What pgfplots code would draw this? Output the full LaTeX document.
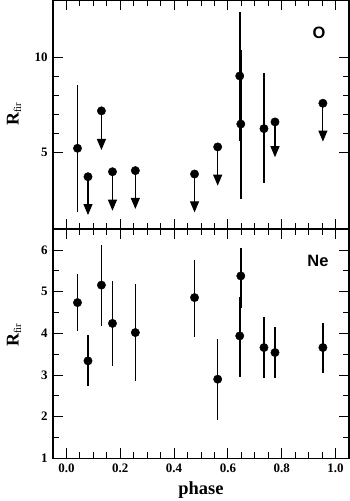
\documentclass[border=0pt]{standalone}
\usepackage{graphicx}
\usepackage{fontspec}
\setmainfont{Liberation Serif}
\newfontfamily\arialb{Liberation Sans}
\usepackage{pgfplots}
\pgfplotsset{compat=1.18}
\usetikzlibrary{arrows.meta}
\newcommand{\rfir}{\fontsize{18}{19}\selectfont\textbf{R}\textsubscript{\fontsize{10.5}{11}\selectfont fir}}
\pgfplotsset{
 panel/.style={
  width=296bp, height=229bp, scale only axis, clip mode=individual,
  xmin=-0.05, xmax=1.05,
  xtick={0,0.2,0.4,0.6,0.8,1.0}, minor x tick num=3,
  major tick length=10bp, minor tick length=6bp,
  every tick/.style={black, line width=0.9bp},
  axis line style={line width=1.1bp},
  tick label style={font=\fontsize{13}{14}\selectfont\bfseries},
  yticklabel style={xshift=-2bp},
  /pgf/number format/assume math mode=true,
 },
 pts/.style={only marks, mark=*, mark size=4.2bp, black, mark options={line width=0.4bp},
  error bars/.cd, y dir=both, y explicit, error mark=none,
  error bar style={line width=1.5bp, black}},
}
\begin{document}
\begin{tikzpicture}
\path[use as bounding box] (0,0) rectangle (350bp,501bp);
% upper panel: O
\begin{axis}[panel, at={(53bp,272bp)}, anchor=south west,
  ymin=1, ymax=13, ytick={5,10}, minor y tick num=4, xticklabels={}]
\addplot[pts] table[x=x, y=y, y error plus expr=\thisrow{hi}-\thisrow{y}, y error minus expr=\thisrow{y}-\thisrow{lo}] {
x y hi lo
0.041 5.23 8.55 1.91
0.644 9.02 12.39 5.63
0.648 6.50 10.39 2.57
0.734 6.26 9.16 3.39
};
\addplot[black, line width=1.1bp, -{Triangle[width=9bp,length=11bp]}, quiver={u=0, v=\thisrow{v}}] table[x=x, y=y] {
x y v
0.080 3.74 -2.01
0.130 7.19 -2.05
0.171 4.00 -2.04
0.256 4.06 -2.01
0.476 3.88 -2.01
0.562 5.30 -2.03
0.775 6.61 -1.85
0.953 7.59 -2.01
};
\addplot[only marks, mark=*, mark size=4.2bp, black, mark options={line width=0.4bp}] table[x=x, y=y] {
x y
0.080 3.74
0.130 7.19
0.171 4.00
0.256 4.06
0.476 3.88
0.562 5.30
0.775 6.61
0.953 7.59
};
\node at (rel axis cs:0.899,0.856) {\arialb\fontsize{16.5}{17}\selectfont\bfseries O};
\end{axis}
% lower panel: Ne
\begin{axis}[panel, at={(53bp,42.7bp)}, anchor=south west,
  ymin=1, ymax=6.5, ytick={1,2,3,4,5,6}, minor y tick num=1,
  xticklabel style={yshift=-2.5bp, /pgf/number format/.cd, fixed, fixed zerofill, precision=1},
  xlabel={\textbf{phase}},
  xlabel style={at={(axis description cs:0.5,-0.14)}, anchor=center, font=\fontsize{18.5}{19}\selectfont}]
\addplot[pts] table[x=x, y=y, y error plus expr=\thisrow{hi}-\thisrow{y}, y error minus expr=\thisrow{y}-\thisrow{lo}] {
x y hi lo
0.041 4.74 5.42 4.06
0.080 3.34 3.95 2.74
0.130 5.16 6.12 4.18
0.171 4.24 5.26 3.22
0.256 4.02 5.18 2.86
0.476 4.86 5.76 3.92
0.562 2.90 3.86 1.92
0.644 3.94 4.88 2.96
0.648 5.38 6.05 4.60
0.734 3.66 4.40 2.92
0.775 3.54 4.16 2.92
0.953 3.66 4.26 3.04
};
\node at (rel axis cs:0.895,0.860) {\arialb\fontsize{16.5}{17}\selectfont\bfseries Ne};
\end{axis}
\node[anchor=center, inner sep=0pt] at (14bp,387bp) {\rotatebox{90}{\rfir}};
\node[anchor=center, inner sep=0pt] at (14bp,166bp) {\rotatebox{90}{\rfir}};
\end{tikzpicture}
\end{document}
